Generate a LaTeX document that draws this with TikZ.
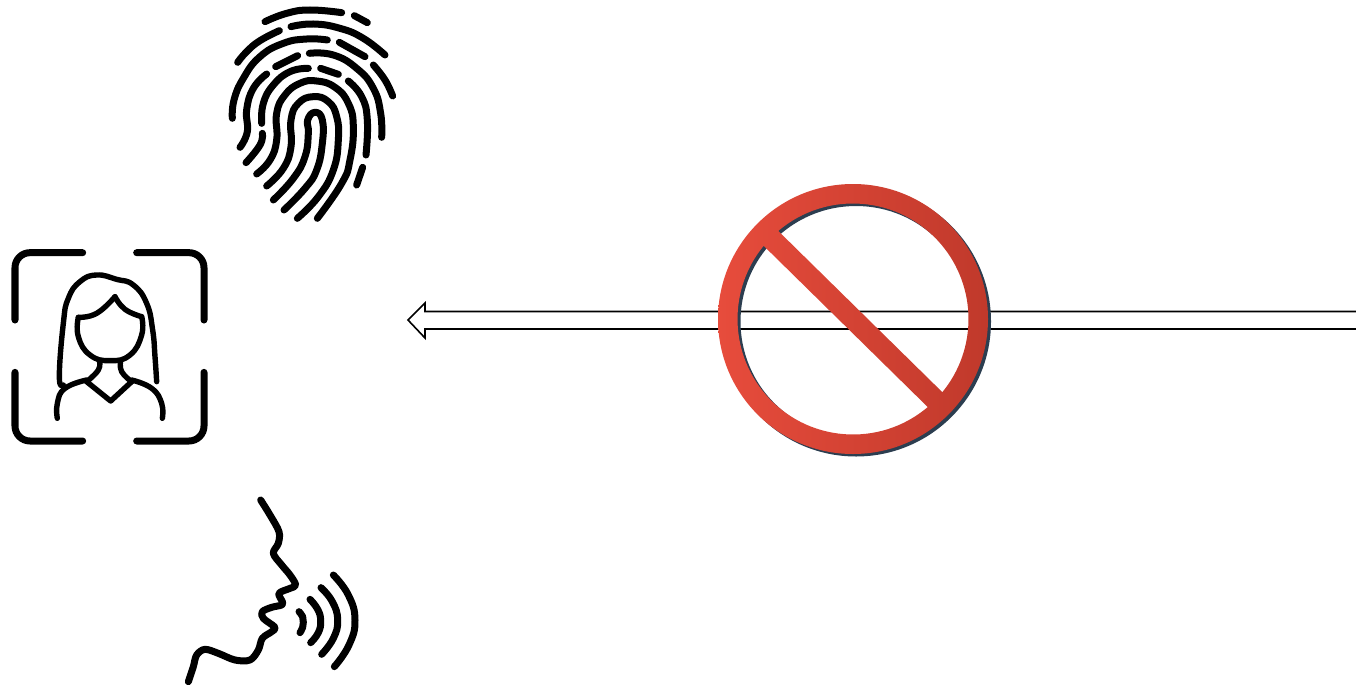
\documentclass[tikz,border=0pt]{standalone}
\definecolor{ringL}{HTML}{E74C3C}
\definecolor{ringR}{HTML}{C0392B}
\definecolor{ringS}{HTML}{2C3E50}
\tikzset{
  icon/.style={draw=black,line width=7pt,line cap=round,line join=round},
  iconthin/.style={draw=black,line width=5.4pt,line cap=round,line join=round},
  speech/.style={draw=black,line width=7pt,line cap=round,line join=round},
  sm/.style={smooth,tension=0.8}
}
\newcommand\fpc[1]{\draw[icon] plot[sm] coordinates {#1};}
\newcommand\fcc[1]{\draw[iconthin] plot[sm] coordinates {#1};}
\newcommand\spc[1]{\draw[speech] plot[sm] coordinates {#1};}
\begin{document}
\begin{tikzpicture}[x=1pt,y=-1pt]
\useasboundingbox (0,0) rectangle (1356,685);
% hollow arrow
\draw[black,line width=1.6pt,miter limit=10,fill=white] (1357,311.5) -- (425,311.5) -- (425,303) -- (408,320) -- (425,338) -- (425,329) -- (1357,329);
% prohibition sign
\fill[ringS,even odd rule] (856,321.5) circle[radius=135] (856,321.5) circle[radius=115.5];
\shade[left color=ringL,right color=ringR,even odd rule]
  (853,319) circle[radius=135]
  ([shift={(853,319)}]-130.33:115.5) arc[start angle=-130.33,end angle=39.33,radius=115.5] -- cycle
  ([shift={(853,319)}]49.67:115.5) arc[start angle=49.67,end angle=219.33,radius=115.5] -- cycle;
% fingerprint
\begin{scope}[shift={(210,0)},x=1pt/3,y=-1pt/3]
\fpc{(165,65)(230,40)(300,30)(395,38)}
\fpc{(433,47)(472,68)}
\fpc{(243,80)(310,72)(390,85)(460,115)(525,165)}
\fpc{(208,92)(150,122)(110,155)(83,187)}
\fpc{(352,120)(290,117)(220,130)(150,170)(100,235)(72,300)(67,355)}
\fpc{(388,127)(465,170)}
\fpc{(490,195)(525,240)(548,288)}
\fpc{(197,200)(263,167)}
\fpc{(298,160)(370,165)(440,205)(490,265)(512,340)(515,412)}
\fpc{(170,222)(130,265)(110,330)(112,395)(90,442)}
\fpc{(295,205)(240,215)(190,255)(160,310)(155,370)}
\fpc{(332,205)(385,223)}
\fpc{(415,243)(455,290)(472,360)(468,465)}
\fpc{(458,502)(440,555)}
\fpc{(157,400)(150,435)(108,488)}
\fpc{(140,522)(180,480)(200,420)(200,340)(225,285)(270,250)(320,243)(375,262)(415,310)(430,380)(420,480)(395,550)(322,655)}
\fpc{(170,558)(220,505)(243,440)(243,360)(265,310)(310,290)(355,305)(380,350)(385,420)(370,510)(325,590)(262,655)}
\fpc{(190,600)(250,535)(285,470)(295,400)(293,360)(315,337)(337,360)(337,430)(320,510)(285,565)(222,630)}
\end{scope}
% face scan
\begin{scope}[shift={(0,240)},x=1pt/3,y=-1pt/3]
\draw[icon,rounded corners=15pt] (45,240) -- (45,38) -- (248,38);
\draw[icon,rounded corners=15pt] (410,38) -- (612,38) -- (612,240);
\draw[icon,rounded corners=15pt] (45,397) -- (45,603) -- (248,603);
\draw[icon,rounded corners=15pt] (410,603) -- (612,603) -- (612,397);
\fcc{(190,435)(178,410)(190,250)(205,175)(240,125)(290,105)(350,118)(400,135)(440,190)(458,270)(465,350)(470,425)}
\fcc{(235,232)(290,220)(345,170)}
\fcc{(345,170)(375,208)(425,230)}
\fcc{(235,232)(235,290)(270,345)(330,362)(390,345)(425,285)(425,230)}
\fcc{(298,362)(295,390)(260,425)}
\fcc{(362,362)(365,395)(395,425)}
\draw[iconthin] (260,425) -- (332,483) -- (395,425);
\fcc{(172,535)(172,490)(195,445)(260,420)}
\fcc{(395,420)(455,445)(485,490)(487,535)}
\end{scope}
% speaking head
\begin{scope}[shift={(175,490)},x=1pt/3,y=-1pt/3]
\draw[speech] plot[smooth,tension=0.55] coordinates {(257,30)(285,75)(312,125)(310,160)(295,190)(320,225)(345,255)(362,285)(345,295)(312,310)(322,335)(320,345)(290,352)(262,365)(265,385)(300,412)(290,425)(262,445)(250,480)(225,510)(180,510)(130,490)(90,478)(65,495)(55,530)(40,575)};
\spc{(372,365)(383,380)(385,397)(383,412)(375,428)}
\spc{(405,328)(428,358)(437,392)(430,428)(407,458)}
\spc{(438,293)(472,335)(488,390)(475,445)(440,493)}
\spc{(475,255)(520,315)(540,390)(522,465)(478,530)}
\end{scope}
\end{tikzpicture}
\end{document}
